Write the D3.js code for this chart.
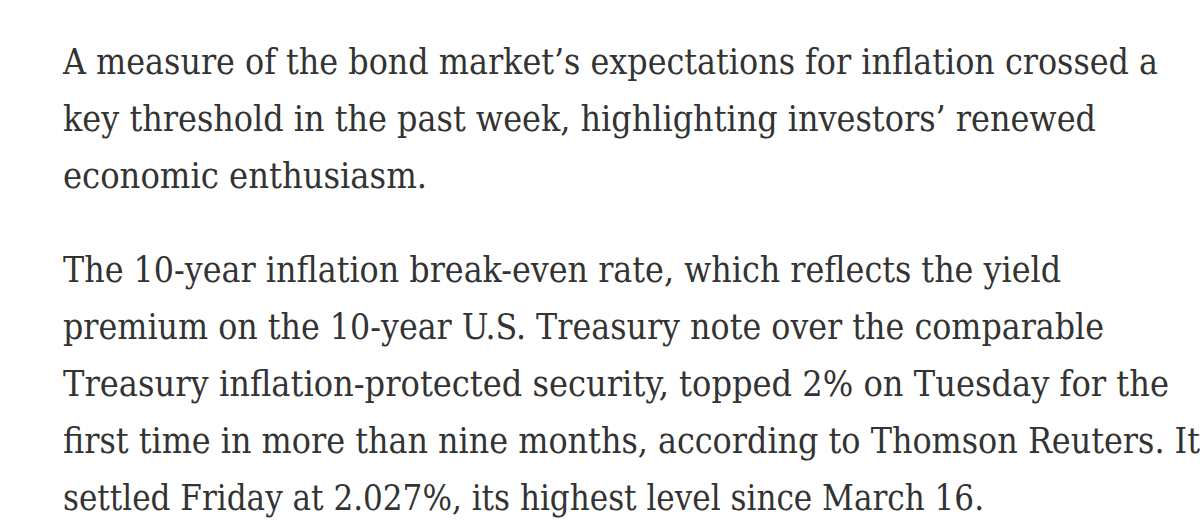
<!DOCTYPE html>
<html>
<head>
<meta charset="utf-8">
<script src="https://cdn.jsdelivr.net/npm/d3@7"></script>
<style>
  html, body { margin: 0; padding: 0; background: #fff; overflow: hidden; }
  text { font-family: "DejaVu Serif Condensed", "DejaVu Serif", serif; font-stretch: condensed; fill: #333; font-size: 35px; }
</style>
</head>
<body>
<div id="chart"></div>
<script>
const lines = [
  "A measure of the bond market’s expectations for inflation crossed a",
  "key threshold in the past week, highlighting investors’ renewed",
  "economic enthusiasm.",
  "The 10-year inflation break-even rate, which reflects the yield",
  "premium on the 10-year U.S. Treasury note over the comparable",
  "Treasury inflation-protected security, topped 2% on Tuesday for the",
  "first time in more than nine months, according to Thomson Reuters. It",
  "settled Friday at 2.027%, its highest level since March 16."
];
const baselines = [74, 131, 188, 281.5, 338.5, 395.5, 452.5, 509.5];
const lineEnds = [1158, 1096, 427, 1061, 1104, 1169, 1200, 984];

const svg = d3.select("#chart").append("svg")
  .attr("width", 1200)
  .attr("height", 531);

svg.selectAll("text")
  .data(lines)
  .join("text")
  .attr("x", 63)
  .attr("y", (d, i) => baselines[i])
  .attr("textLength", (d, i) => lineEnds[i] - 63)
  .attr("lengthAdjust", "spacingAndGlyphs")
  .text(d => d);
</script>
</body>
</html>
